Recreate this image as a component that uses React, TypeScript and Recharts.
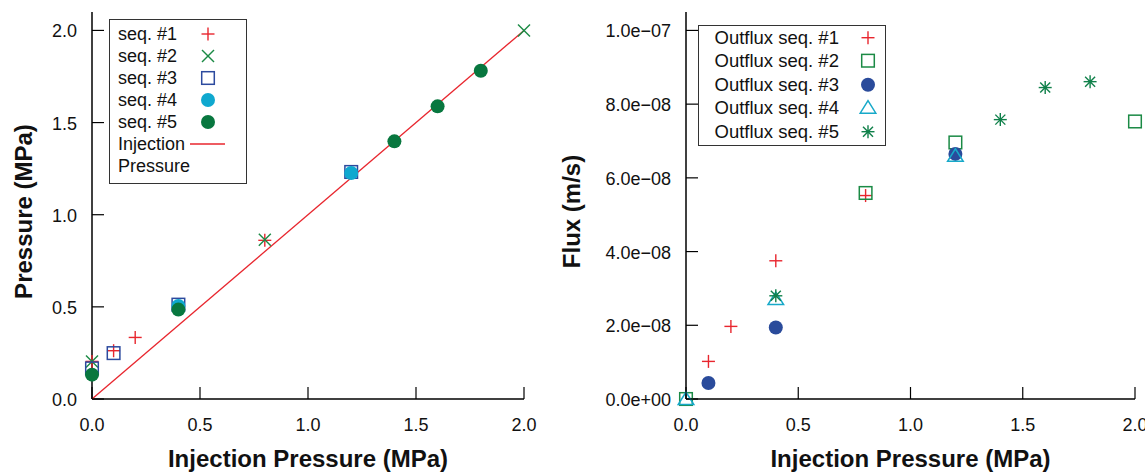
import React from 'react';
import { ScatterChart, Scatter, XAxis, YAxis, Legend } from 'recharts';

const FONT = '"Liberation Sans", Arial, Helvetica, sans-serif';

// shared x axis (injection pressure, MPa)
const pressureTicks = [0, 0.5, 1, 1.5, 2];
const pressureTickLabels = ['0.0', '0.5', '1.0', '1.5', '2.0'];

// right panel y axis
const fluxTicks = [0, 2e-8, 4e-8, 6e-8, 8e-8, 1e-7];
const fluxTickLabels = ['0.0e+00', '2.0e\u221208', '4.0e\u221208', '6.0e\u221208', '8.0e\u221208', '1.0e\u221207'];

// left panel: measured pressure vs injection pressure  [x, y]
const pSeq1: [number, number][] = [[0, 0.204], [0.1, 0.262], [0.2, 0.334], [0.8, 0.861]];
const pSeq2: [number, number][] = [[0, 0.204], [0.8, 0.864], [2.0, 2.0]];
const pSeq3: [number, number][] = [[0, 0.166], [0.1, 0.249], [0.4, 0.512], [1.2, 1.232]];
const pSeq4: [number, number][] = [[0.4, 0.505], [1.2, 1.226]];
const pSeq5: [number, number][] = [[0, 0.132], [0.4, 0.485], [1.4, 1.398], [1.6, 1.588], [1.8, 1.781]];
const injection: [number, number][] = [[0, 0], [2, 2]];

// right panel: outflux vs injection pressure  [x, y]
const fSeq1: [number, number][] = [[0.1, 1.02e-8], [0.2, 1.97e-8], [0.4, 3.75e-8], [0.8, 5.52e-8]];
const fSeq2: [number, number][] = [[0, 0], [0.8, 5.59e-8], [1.2, 6.96e-8], [2.0, 7.53e-8]];
const fSeq3: [number, number][] = [[0.1, 4.35e-9], [0.4, 1.94e-8], [1.2, 6.65e-8]];
const fSeq4: [number, number][] = [[0, 0], [0.4, 2.71e-8], [1.2, 6.6e-8]];
const fSeq5: [number, number][] = [[0.4, 2.8e-8], [1.4, 7.58e-8], [1.6, 8.45e-8], [1.8, 8.61e-8]];

const pts = (arr: [number, number][]) => arr.map(([x, y]) => ({ x, y }));

type Kind = 'plus' | 'cross' | 'square' | 'circle' | 'triangle' | 'star';

function Marker({ kind, cx, cy, color }: { kind: Kind; cx: number; cy: number; color: string }) {
  if (cx == null || cy == null) return <g />;
  const sw = 1.4;
  switch (kind) {
    case 'plus':
      return (
        <g stroke={color} strokeWidth={sw}>
          <line x1={cx - 6.5} y1={cy} x2={cx + 6.5} y2={cy} />
          <line x1={cx} y1={cy - 6.5} x2={cx} y2={cy + 6.5} />
        </g>
      );
    case 'cross':
      return (
        <g stroke={color} strokeWidth={sw}>
          <line x1={cx - 6} y1={cy - 6} x2={cx + 6} y2={cy + 6} />
          <line x1={cx - 6} y1={cy + 6} x2={cx + 6} y2={cy - 6} />
        </g>
      );
    case 'star':
      return (
        <g stroke={color} strokeWidth={sw}>
          <line x1={cx - 6.5} y1={cy} x2={cx + 6.5} y2={cy} />
          <line x1={cx} y1={cy - 6.5} x2={cx} y2={cy + 6.5} />
          <line x1={cx - 5} y1={cy - 5} x2={cx + 5} y2={cy + 5} />
          <line x1={cx - 5} y1={cy + 5} x2={cx + 5} y2={cy - 5} />
          <circle cx={cx} cy={cy} r={1.6} fill={color} stroke="none" />
        </g>
      );
    case 'square':
      return <rect x={cx - 6.3} y={cy - 6.3} width={12.6} height={12.6} fill="none" stroke={color} strokeWidth={1.5} />;
    case 'circle':
      return <circle cx={cx} cy={cy} r={7} fill={color} />;
    case 'triangle':
      return (
        <polygon
          points={`${cx},${cy - 7} ${cx - 7.8},${cy + 5.5} ${cx + 7.8},${cy + 5.5}`}
          fill="none"
          stroke={color}
          strokeWidth={1.5}
        />
      );
  }
  return <g />;
}

interface SeriesDef {
  name: string;
  data: [number, number][];
  kind: Kind;
  color: string;
}

const RED = '#e8262e';

const pressureSeries: SeriesDef[] = [
  { name: 'seq. #1', data: pSeq1, kind: 'plus', color: RED },
  { name: 'seq. #2', data: pSeq2, kind: 'cross', color: '#1b8a45' },
  { name: 'seq. #3', data: pSeq3, kind: 'square', color: '#2c4a9e' },
  { name: 'seq. #4', data: pSeq4, kind: 'circle', color: '#0fa8cf' },
  { name: 'seq. #5', data: pSeq5, kind: 'circle', color: '#08773f' },
];

const fluxSeries: SeriesDef[] = [
  { name: 'Outflux seq. #1', data: fSeq1, kind: 'plus', color: RED },
  { name: 'Outflux seq. #2', data: fSeq2, kind: 'square', color: '#1b8a45' },
  { name: 'Outflux seq. #3', data: fSeq3, kind: 'circle', color: '#2a4b9b' },
  { name: 'Outflux seq. #4', data: fSeq4, kind: 'triangle', color: '#17a9c9' },
  { name: 'Outflux seq. #5', data: fSeq5, kind: 'star', color: '#10804a' },
];

const frame = { stroke: '#000', strokeWidth: 1.5 };
const TICK = 12;

const BottomTick = (props: any) => {
  const { x, y, payload } = props;
  const label = pressureTickLabels[pressureTicks.indexOf(payload.value)];
  return (
    <g>
      <line x1={x} y1={y} x2={x} y2={y - TICK} stroke="#000" strokeWidth={1.2} />
      <text x={x} y={y + 31.5} textAnchor="middle" fontSize={18} fontFamily={FONT} fill="#111">
        {label}
      </text>
    </g>
  );
};

const makeLeftTick = (ticks: number[], labels: string[], gap: number) => (props: any) => {
  const { x, y, payload } = props;
  const label = labels[ticks.indexOf(payload.value)];
  return (
    <g>
      <line x1={x} y1={y} x2={x + TICK} y2={y} stroke="#000" strokeWidth={1.2} />
      <text x={x - gap} y={y + 7} textAnchor="end" fontSize={18} fontFamily={FONT} fill="#111">
        {label}
      </text>
    </g>
  );
};

const RightTick = (props: any) => {
  const { x, y } = props;
  return <line x1={x} y1={y} x2={x - TICK} y2={y} stroke="#000" strokeWidth={1.2} />;
};

const xTitle = (props: any) => {
  const vb = props.viewBox || {};
  return (
    <text
      x={vb.x + vb.width / 2}
      y={vb.y + 68}
      textAnchor="middle"
      fontSize={24}
      fontWeight="bold"
      fontFamily={FONT}
      fill="#111"
    >
      Injection Pressure (MPa)
    </text>
  );
};

const yTitle = (text: string, bx: number) => (props: any) => {
  const vb = props.viewBox || {};
  const cy = vb.y + vb.height / 2 + 6;
  return (
    <text
      x={bx}
      y={cy}
      transform={`rotate(-90 ${bx} ${cy})`}
      textAnchor="middle"
      fontSize={24}
      fontWeight="bold"
      fontFamily={FONT}
      fill="#111"
    >
      {text}
    </text>
  );
};

function LegendBox({
  series,
  width,
  height,
  rowH,
  padLeft,
  padTop,
  markerX,
  fontSize,
  extra,
}: {
  series: SeriesDef[];
  width: number;
  height: number;
  rowH: number;
  padLeft: number;
  padTop: number;
  markerX: number;
  fontSize: number;
  extra?: boolean;
}) {
  const row = (key: string, label: string, mark: React.ReactNode) => (
    <div key={key} style={{ position: 'relative', height: rowH, lineHeight: `${rowH}px`, whiteSpace: 'nowrap' }}>
      {label}
      {mark && (
        <svg style={{ position: 'absolute', left: markerX - 20, top: 0 }} width={40} height={rowH}>
          {mark}
        </svg>
      )}
    </div>
  );
  return (
    <div
      style={{
        boxSizing: 'border-box',
        width,
        height,
        border: '1.5px solid #333',
        background: '#fff',
        paddingLeft: padLeft,
        paddingTop: padTop,
        fontFamily: FONT,
        fontSize,
        color: '#111',
      }}
    >
      {series.map((s) =>
        row(s.name, s.name, <Marker kind={s.kind} cx={20} cy={rowH / 2} color={s.color} />)
      )}
      {extra &&
        row('inj', 'Injection', <line x1={2} y1={rowH / 2} x2={37} y2={rowH / 2} stroke={RED} strokeWidth={1.3} />)}
      {extra && row('inj2', 'Pressure', null)}
    </div>
  );
}

function PressureChart() {
  return (
    <ScatterChart width={560} height={473} margin={{ top: 12, right: 36, bottom: 0, left: 0 }}>
      <XAxis
        type="number"
        dataKey="x"
        domain={[0, 2]}
        ticks={pressureTicks}
        interval={0}
        height={74}
        axisLine={frame}
        tickLine={false}
        tickSize={0}
        tickMargin={0}
        tick={BottomTick}
        label={xTitle}
      />
      <XAxis xAxisId="top" orientation="top" type="number" domain={[0, 2]} height={0} axisLine={frame} tick={false} tickLine={false} />
      <YAxis
        type="number"
        dataKey="y"
        domain={[0, 2.1]}
        ticks={pressureTicks}
        interval={0}
        width={92}
        axisLine={frame}
        tickLine={false}
        tickSize={0}
        tickMargin={0}
        tick={makeLeftTick(pressureTicks, pressureTickLabels, 15)}
        label={yTitle('Pressure (MPa)', 32)}
      />
      <YAxis
        yAxisId="r"
        orientation="right"
        type="number"
        domain={[0, 2.1]}
        ticks={pressureTicks}
        interval={0}
        width={0}
        axisLine={frame}
        tickLine={false}
        tickSize={0}
        tickMargin={0}
        tick={RightTick}
      />
      <Scatter
        name="Injection Pressure"
        data={pts(injection)}
        line={{ stroke: RED, strokeWidth: 1.3 }}
        lineType="joint"
        shape={() => <g />}
        isAnimationActive={false}
      />
      {pressureSeries.map((s) => (
        <Scatter
          key={s.name}
          name={s.name}
          data={pts(s.data)}
          shape={(p: any) => <Marker kind={s.kind} cx={p.cx} cy={p.cy} color={s.color} />}
          isAnimationActive={false}
        />
      ))}
      <Legend
        layout="horizontal"
        verticalAlign="middle"
        align="center"
        wrapperStyle={{ left: 109, top: 19, width: 'auto', height: 'auto' }}
        content={() => (
          <LegendBox
            series={pressureSeries}
            width={138}
            height={165}
            rowH={22}
            padLeft={8}
            padTop={3}
            markerX={90}
            fontSize={18}
            extra
          />
        )}
      />
    </ScatterChart>
  );
}

function FluxChart() {
  return (
    <ScatterChart width={595} height={473} margin={{ top: 12, right: 10, bottom: 0, left: 0 }}>
      <XAxis
        type="number"
        dataKey="x"
        domain={[0, 2]}
        ticks={pressureTicks}
        interval={0}
        height={74}
        axisLine={frame}
        tickLine={false}
        tickSize={0}
        tickMargin={0}
        tick={BottomTick}
        label={xTitle}
      />
      <XAxis xAxisId="top" orientation="top" type="number" domain={[0, 2]} height={0} axisLine={frame} tick={false} tickLine={false} />
      <YAxis
        type="number"
        dataKey="y"
        domain={[0, 1.05e-7]}
        ticks={fluxTicks}
        interval={0}
        width={136}
        axisLine={frame}
        tickLine={false}
        tickSize={0}
        tickMargin={0}
        tick={makeLeftTick(fluxTicks, fluxTickLabels, 15)}
        label={yTitle('Flux (m/s)', 30)}
      />
      <YAxis
        yAxisId="r"
        orientation="right"
        type="number"
        domain={[0, 1.05e-7]}
        ticks={fluxTicks}
        interval={0}
        width={0}
        axisLine={frame}
        tickLine={false}
        tickSize={0}
        tickMargin={0}
        tick={RightTick}
      />
      {fluxSeries.map((s) => (
        <Scatter
          key={s.name}
          name={s.name}
          data={pts(s.data)}
          shape={(p: any) => <Marker kind={s.kind} cx={p.cx} cy={p.cy} color={s.color} />}
          isAnimationActive={false}
        />
      ))}
      <Legend
        layout="horizontal"
        verticalAlign="middle"
        align="center"
        wrapperStyle={{ left: 148, top: 25, width: 'auto', height: 'auto' }}
        content={() => (
          <LegendBox
            series={fluxSeries}
            width={188}
            height={121}
            rowH={23.4}
            padLeft={15.5}
            padTop={0}
            markerX={153.5}
            fontSize={18.5}
          />
        )}
      />
    </ScatterChart>
  );
}

export default function App() {
  return (
    <div style={{ position: 'absolute', left: 0, top: 0, width: 1145, height: 473, background: '#fff' }}>
      <div style={{ position: 'absolute', left: 0, top: 0 }}>
        <PressureChart />
      </div>
      <div style={{ position: 'absolute', left: 550, top: 0 }}>
        <FluxChart />
      </div>
    </div>
  );
}
